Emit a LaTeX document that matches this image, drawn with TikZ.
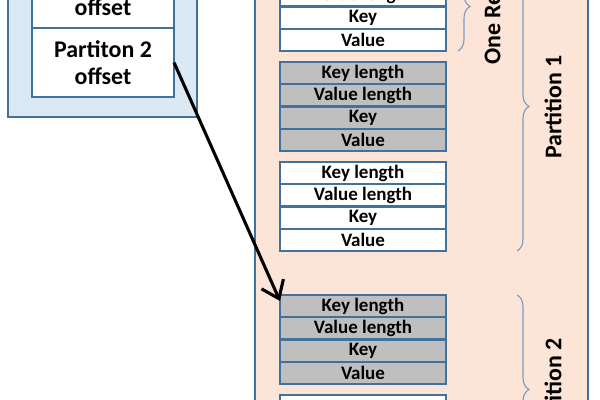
\documentclass[tikz,border=0pt]{standalone}
\usepackage{fontspec}
\setmainfont{Carlito}
\usetikzlibrary{positioning,arrows.meta,decorations.pathreplacing}
\definecolor{edge}{HTML}{41719C}
\definecolor{peach}{HTML}{FCE4D6}
\definecolor{skyfill}{HTML}{DAE9F3}
\definecolor{cellgray}{HTML}{BFBFBF}
\definecolor{bracecol}{HTML}{7A9CC6}

\begin{document}
\begin{tikzpicture}[
x=0.025cm, y=-0.025cm,
cell/.style={draw=edge, line width=1.6pt, outer sep=0pt, inner sep=0pt, minimum width=4.15cm, minimum height=0.556cm, font=\fontsize{13.5}{14}\selectfont\bfseries},
offcell/.style={draw=edge, line width=1.6pt, fill=white, outer sep=0pt, inner sep=0pt, minimum width=3.55cm, minimum height=1.725cm, align=center, font=\fontsize{17}{19}\selectfont\bfseries},
bracket/.style={draw=bracecol, line width=0.8pt, decorate, decoration={brace, amplitude=8.5pt}},
sidetext/.style={rotate=90, font=\fontsize{17}{20}\selectfont\bfseries}
]
\useasboundingbox (0,0) rectangle (600,400);
\clip (0,0) rectangle (600,400);
% offsets
\draw[draw=edge, line width=1.6pt, fill=skyfill] (8,-80) rectangle (197,117);
\node[offcell] (p1) at (103,-6.5) {Partiton 1\\offset};
\node[offcell, below=0pt of p1] (p2) {Partiton 2\\offset};
% data file
\draw[draw=edge, line width=1.6pt, fill=peach] (255,-80) rectangle (588,480);
\foreach \rec/\top/\shade in {a/-38/white, b/62/cellgray, c/162/white, d/295/cellgray}{
  \node[cell, fill=\shade] (\rec1) at (363,{\top+11.1}) {Key length};
  \node[cell, fill=\shade, below=0pt of \rec1] (\rec2) {Value length};
  \node[cell, fill=\shade, below=0pt of \rec2] (\rec3) {Key};
  \node[cell, fill=\shade, below=0pt of \rec3] (\rec4) {Value};
}
\node[cell, fill=white, anchor=north, minimum height=2.225cm] (e) at (363,395) {};
% braces
\draw[bracket] ([xshift=0.3cm]a1.north east) -- ([xshift=0.3cm]a4.south east);
\draw[bracket] ([xshift=1.775cm]a1.north east) -- ([xshift=1.775cm]c4.south east);
\draw[bracket] ([xshift=1.775cm]d1.north east) -- ([xshift=1.775cm]e.south east);
\node[sidetext] (onerec) at (492,7) {One Record};
\node[sidetext] (part1) at (553,107) {Partition 1};
\node[sidetext] (part2) at (553,390) {Partition 2};
% pointer
\draw[line width=2.2pt, -{Straight Barb[length=4mm,width=6mm]}] (p2.east) -- ([yshift=-0.15cm]d1.north west);
\end{tikzpicture}
\end{document}
